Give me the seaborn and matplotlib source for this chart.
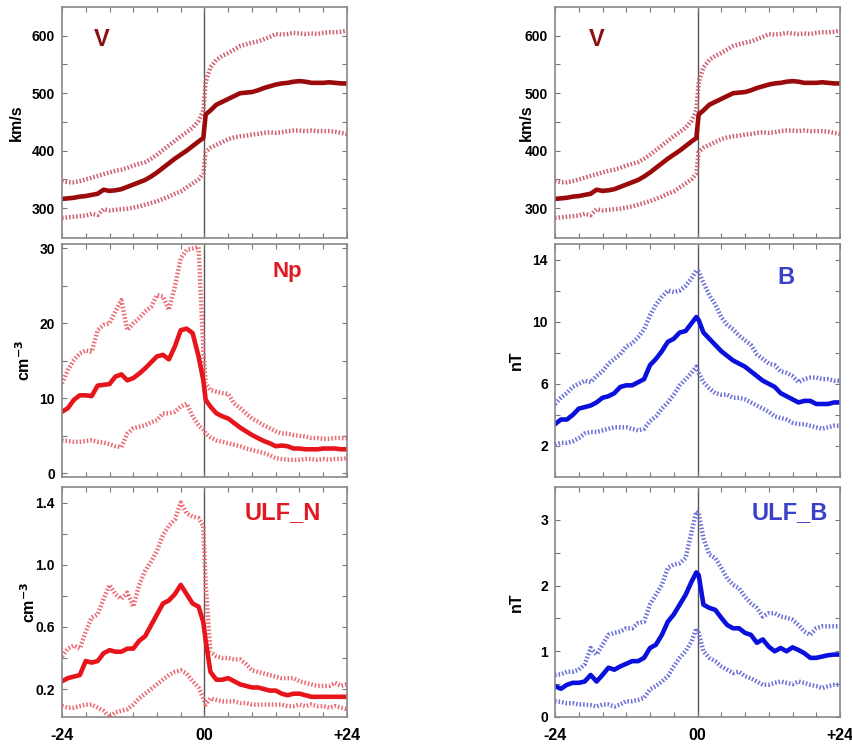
import matplotlib
matplotlib.use("Agg")
import matplotlib.pyplot as plt
import seaborn as sns
import numpy as np

# ---------------- data ----------------
hours = list(range(-24, 0)) + [-0.2, 0.2] + list(range(1, 25))

v_mean = [316, 317, 318, 320, 321, 323, 325, 332, 330, 331, 333, 337, 341, 345, 349, 355, 362, 370, 378, 386,
          393, 400, 408, 416, 422, 463, 470, 480, 485, 490, 495, 500, 501, 502, 505, 509, 512, 515, 517, 518,
          520, 521, 520, 518, 518, 518, 519, 518, 517, 517]
v_upper = [347, 345, 345, 347, 350, 353, 356, 359, 362, 365, 367, 370, 374, 377, 380, 386, 393, 401, 409, 417,
           425, 432, 440, 452, 470, 520, 545, 558, 565, 570, 576, 582, 585, 588, 590, 594, 598, 603, 602, 603,
           605, 604, 603, 604, 603, 605, 606, 606, 607, 609]
v_lower = [283, 284, 285, 286, 287, 290, 288, 298, 296, 297, 298, 299, 301, 303, 306, 309, 312, 316, 320, 325,
           329, 336, 343, 350, 360, 398, 405, 410, 415, 420, 423, 425, 426, 428, 429, 431, 432, 431, 432, 434,
           435, 435, 434, 435, 434, 434, 434, 433, 431, 429]

np_mean = [8.2, 8.7, 9.8, 10.4, 10.4, 10.3, 11.7, 11.8, 11.9, 12.9, 13.2, 12.4, 12.7, 13.3, 14.0, 14.8, 15.6, 15.8,
           15.2, 16.9, 19.1, 19.3, 18.7, 15.6, 12.4, 9.8, 8.9, 8.0, 7.6, 7.3, 6.7, 6.1, 5.6, 5.1, 4.7, 4.3, 4.0,
           3.6, 3.7, 3.6, 3.3, 3.3, 3.2, 3.2, 3.2, 3.3, 3.3, 3.3, 3.2, 3.2]
np_upper = [12.0, 13.8, 15.1, 16.0, 16.4, 16.2, 19.1, 19.8, 20.0, 21.6, 23.1, 19.1, 20.0, 20.7, 21.6, 22.2, 23.8,
            23.6, 21.8, 24.9, 28.7, 29.8, 30.0, 30.2, 16.4, 12.0, 11.1, 10.9, 10.7, 10.6, 9.3, 8.7, 8.0, 7.3, 6.9,
            6.4, 6.0, 5.6, 5.3, 5.3, 5.1, 5.0, 4.9, 4.7, 4.7, 4.6, 4.6, 4.7, 4.7, 4.7]
np_lower = [4.4, 4.3, 4.2, 4.2, 4.3, 4.4, 4.2, 4.1, 3.9, 3.6, 3.5, 5.3, 6.0, 6.2, 6.4, 6.8, 7.1, 8.0, 8.0, 8.2,
            8.9, 9.3, 7.6, 6.4, 5.8, 5.3, 4.8, 4.4, 4.2, 4.0, 3.8, 3.6, 3.3, 3.1, 2.9, 2.7, 2.4, 2.0, 1.9, 1.8,
            1.8, 1.8, 1.9, 1.9, 1.8, 1.9, 1.8, 1.9, 1.9, 2.0]

ulfn_mean = [0.25, 0.27, 0.28, 0.29, 0.38, 0.37, 0.38, 0.43, 0.45, 0.44, 0.44, 0.46, 0.46, 0.51, 0.54, 0.61, 0.68,
             0.75, 0.77, 0.81, 0.87, 0.81, 0.75, 0.73, 0.63, 0.51, 0.31, 0.26, 0.26, 0.27, 0.25, 0.23, 0.22, 0.21,
             0.21, 0.20, 0.19, 0.19, 0.17, 0.16, 0.17, 0.17, 0.16, 0.15, 0.15, 0.15, 0.15, 0.15, 0.15, 0.15]
ulfn_upper = [0.41, 0.46, 0.48, 0.46, 0.57, 0.66, 0.68, 0.78, 0.87, 0.81, 0.78, 0.82, 0.73, 0.87, 0.96, 1.02, 1.09,
              1.19, 1.25, 1.29, 1.40, 1.33, 1.31, 1.30, 1.25, 0.87, 0.44, 0.41, 0.40, 0.40, 0.39, 0.39, 0.36, 0.32,
              0.31, 0.30, 0.29, 0.28, 0.27, 0.27, 0.27, 0.25, 0.24, 0.23, 0.22, 0.22, 0.22, 0.24, 0.22, 0.23]
ulfn_lower = [0.09, 0.08, 0.08, 0.09, 0.10, 0.10, 0.08, 0.06, 0.02, 0.05, 0.06, 0.07, 0.10, 0.14, 0.17, 0.20, 0.23,
              0.26, 0.29, 0.31, 0.32, 0.30, 0.25, 0.21, 0.14, 0.10, 0.14, 0.13, 0.12, 0.12, 0.12, 0.11, 0.11, 0.10,
              0.10, 0.10, 0.10, 0.10, 0.10, 0.09, 0.09, 0.10, 0.09, 0.10, 0.09, 0.09, 0.08, 0.09, 0.08, 0.07]

b_mean = [3.4, 3.7, 3.7, 4.0, 4.4, 4.5, 4.6, 4.8, 5.1, 5.2, 5.4, 5.8, 5.9, 5.9, 6.1, 6.3, 7.2, 7.6, 8.1, 8.7,
          8.9, 9.3, 9.4, 9.9, 10.3, 10.1, 9.3, 8.9, 8.5, 8.1, 7.8, 7.5, 7.3, 7.1, 6.8, 6.5, 6.2, 6.0, 5.8, 5.4,
          5.2, 5.0, 4.8, 4.9, 4.9, 4.7, 4.7, 4.7, 4.8, 4.8]
b_upper = [4.7, 5.1, 5.4, 5.8, 6.0, 6.2, 6.1, 6.5, 6.8, 7.3, 7.6, 7.9, 8.4, 8.6, 9.0, 9.5, 10.4, 11.1, 11.6, 12.0,
           11.9, 12.0, 12.3, 12.8, 13.3, 13.2, 12.5, 11.7, 11.1, 10.3, 9.8, 9.5, 9.1, 8.8, 8.5, 7.9, 7.6, 7.3, 7.2,
           6.8, 6.7, 6.5, 6.1, 6.3, 6.4, 6.4, 6.3, 6.3, 6.2, 6.2]
b_lower = [2.1, 2.2, 2.2, 2.3, 2.5, 2.8, 2.9, 2.9, 3.0, 3.1, 3.2, 3.2, 3.2, 3.1, 3.0, 3.1, 3.6, 3.9, 4.4, 4.8,
           5.3, 5.9, 6.3, 6.7, 7.1, 6.7, 6.1, 5.7, 5.4, 5.3, 5.3, 5.1, 5.1, 5.0, 4.8, 4.6, 4.4, 4.2, 3.9, 3.8,
           3.7, 3.5, 3.4, 3.4, 3.3, 3.2, 3.1, 3.2, 3.3, 3.3]

ulfb_mean = [0.47, 0.43, 0.49, 0.52, 0.52, 0.54, 0.64, 0.54, 0.64, 0.75, 0.72, 0.77, 0.81, 0.85, 0.85, 0.90, 1.05,
             1.10, 1.25, 1.45, 1.56, 1.71, 1.86, 2.06, 2.20, 2.16, 1.71, 1.66, 1.63, 1.51, 1.40, 1.35, 1.35, 1.28,
             1.25, 1.13, 1.18, 1.07, 1.00, 1.05, 1.00, 1.06, 1.02, 0.97, 0.90, 0.90, 0.92, 0.94, 0.95, 0.95]
ulfb_upper = [0.64, 0.65, 0.69, 0.69, 0.72, 0.80, 1.05, 0.95, 1.10, 1.25, 1.28, 1.30, 1.35, 1.35, 1.43, 1.45, 1.71,
              1.86, 2.01, 2.27, 2.32, 2.34, 2.42, 2.82, 3.13, 3.10, 2.72, 2.47, 2.42, 2.27, 2.11, 2.01, 1.96, 1.83,
              1.73, 1.66, 1.53, 1.58, 1.58, 1.53, 1.51, 1.48, 1.40, 1.30, 1.25, 1.35, 1.38, 1.38, 1.38, 1.38]
ulfb_lower = [0.24, 0.23, 0.21, 0.21, 0.19, 0.19, 0.18, 0.16, 0.19, 0.19, 0.16, 0.19, 0.24, 0.24, 0.26, 0.29, 0.42,
              0.47, 0.54, 0.62, 0.77, 0.90, 1.00, 1.15, 1.35, 1.28, 1.00, 0.90, 0.85, 0.77, 0.72, 0.67, 0.69, 0.62,
              0.59, 0.54, 0.49, 0.49, 0.52, 0.54, 0.52, 0.50, 0.54, 0.52, 0.49, 0.47, 0.44, 0.47, 0.49, 0.49]

x_tick_positions = [-24, -20, -16, -12, -8, -4, 0, 4, 8, 12, 16, 20, 24]
x_tick_labels = ["-24", "", "", "", "", "", "00", "", "", "", "", "", "+24"]

# ---------------- style ----------------
sns.set_style("ticks")
plt.rcParams["font.family"] = ["Liberation Sans", "DejaVu Sans"]
plt.rcParams["font.weight"] = "bold"

fig = plt.figure(figsize=(8.53, 7.47), dpi=100)

W = 853.0
H = 747.0
col_left = [62, 555]
col_w = 285
rows = [(7, 238), (244, 477), (487, 717)]


def make_ax(col, row):
    x0 = col_left[col]
    top, bot = rows[row]
    return fig.add_axes([x0 / W, 1 - bot / H, col_w / W, (bot - top) / H])


DOT = (0, (0.35, 0.45))

panels = [
    (0, 0, v_mean, v_upper, v_lower, "#9b0a0a", "#d06070", (248, 650),
     [300, 350, 400, 450, 500, 550, 600], ["300", "", "400", "", "500", "", "600"], "km/s",
     "V", "#8b1212", (0.14, 0.86), 17, -0.135),
    (0, 1, np_mean, np_upper, np_lower, "#e8141c", "#ec6a72", (-0.5, 30.6),
     [0, 5, 10, 15, 20, 25, 30], ["0", "", "10", "", "20", "", "30"], "cm$^{\\mathbf{-3}}$",
     "Np", "#e01a22", (0.79, 0.884), 16, -0.10),
    (0, 2, ulfn_mean, ulfn_upper, ulfn_lower, "#e8141c", "#ec6a72", (0.02, 1.50),
     [0.2, 0.4, 0.6, 0.8, 1.0, 1.2, 1.4], ["0.2", "", "0.6", "", "1.0", "", "1.4"], "cm$^{\\mathbf{-3}}$",
     "ULF_N", "#e01a22", (0.775, 0.89), 17, -0.085),
    (1, 0, v_mean, v_upper, v_lower, "#9b0a0a", "#d06070", (248, 650),
     [300, 350, 400, 450, 500, 550, 600], ["300", "", "400", "", "500", "", "600"], "km/s",
     "V", "#8b1212", (0.147, 0.86), 17, -0.075),
    (1, 1, b_mean, b_upper, b_lower, "#0a10dc", "#6a70d8", (0, 15),
     [2, 4, 6, 8, 10, 12, 14], ["2", "", "6", "", "10", "", "14"], "nT",
     "B", "#3a40c8", (0.81, 0.858), 17, -0.11),
    (1, 2, ulfb_mean, ulfb_upper, ulfb_lower, "#0a10dc", "#6a70d8", (0, 3.5),
     [0, 0.5, 1, 1.5, 2, 2.5, 3], ["0", "", "1", "", "2", "", "3"], "nT",
     "ULF_B", "#3a40c8", (0.825, 0.89), 17, -0.11),
]

for (col, row, m, up, lo, c_solid, c_dot, ylim, yt, ytl, ylab,
     title, tcol, tpos, tsize, ylx) in panels:
    ax = make_ax(col, row)
    sns.lineplot(x=hours, y=up, ax=ax, color=c_dot, lw=3.2, linestyle=DOT, dash_capstyle="butt")
    sns.lineplot(x=hours, y=lo, ax=ax, color=c_dot, lw=3.2, linestyle=DOT, dash_capstyle="butt")
    sns.lineplot(x=hours, y=m, ax=ax, color=c_solid, lw=3.3)
    ax.axvline(0, color="#555555", lw=1.0, zorder=0.5)
    ax.set_xlim(-24, 24)
    ax.set_ylim(*ylim)
    ax.set_xticks(x_tick_positions)
    if row == 2:
        ax.set_xticklabels(x_tick_labels, fontsize=11.5, fontweight="bold")
    else:
        ax.set_xticklabels([])
    ax.set_yticks(yt)
    ax.set_yticklabels(ytl, fontsize=10, fontweight="bold")
    ax.tick_params(axis="both", which="major", direction="in", length=3.5, width=0.8,
                   color="#777777", top=True, right=True, labelcolor="black")
    ax.tick_params(axis="x", pad=8)
    ax.tick_params(axis="y", pad=5)
    for s in ax.spines.values():
        s.set_color("#888888")
        s.set_linewidth(1.2)
    ax.set_ylabel(ylab, fontsize=11.5, fontweight="bold", color="black")
    ax.yaxis.set_label_coords(ylx, 0.5)
    ax.set_xlabel("")
    ax.text(tpos[0], tpos[1], title, transform=ax.transAxes, ha="center", va="center",
            fontsize=tsize, fontweight="bold", color=tcol)

fig.savefig("out.png", dpi=100)
